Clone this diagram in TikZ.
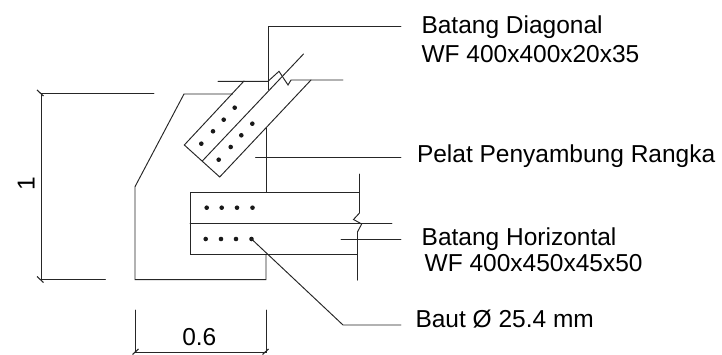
\documentclass[tikz,border=0pt]{standalone}
\usepackage{fontspec}
\setmainfont{Liberation Sans}
\tikzset{
  ln/.style={line width=0.95pt,draw=black!85,line cap=round,line join=miter},
  lbl/.style={inner sep=0pt,anchor=base west,font=\fontsize{24.5}{28}\selectfont,text=black},
  pt/.style={circle,fill=black!90,inner sep=0pt,minimum size=4.6pt},
  tick/.style={line width=1.1pt,draw=black!85}
}
\begin{document}
\begin{tikzpicture}[x=1pt,y=-1pt]
\useasboundingbox (0,0) rectangle (722,355);
% labels
\node[lbl] (lDiagA) at (421.3,33.5) {Batang Diagonal};
\node[lbl] (lDiagB) at (421.3,63) {WF 400x400x20x35};
\node[lbl] (lPelat) at (416.8,163) {Pelat Penyambung Rangka};
\node[lbl] (lHorA) at (421.5,245) {Batang Horizontal};
\node[lbl] (lHorB) at (424.5,271.7) {WF 400x450x45x50};
\node[lbl] (lBaut) at (415.3,327.3) {Baut Ø 25.4 mm};
\node[lbl,anchor=base] (lWid) at (199.3,345.7) {0.6};
\node[lbl,anchor=base,rotate=90] (lHei) at (34.5,184) {1};
% bolts diagonal
\foreach \n/\x/\y in {a/201.3/143.7,b/213/131.3,c/223.7/119.7,d/234.7/107.7,e/218.7/159.7,f/230.7/147,g/241.3/135.3,h/252.3/123.7}
  \node[pt] (d\n) at (\x,\y) {};
% bolts horizontal
\foreach \n/\x in {a/206.7,b/221.7,c/237,d/252.5}
  \node[pt] (t\n) at (\x,207.7) {};
\foreach \n/\x in {a/205.7,b/221,c/236,d/251.5}
  \node[pt] (u\n) at (\x,239) {};
% gusset plate
\draw[ln] (232.7,94) -- (184,94) -- (135,186.7) -- (135,279.7) -- (266,279.7) -- (266,254.7);
\draw[ln] (266,192) -- (266,128);
% diagonal member
\draw[ln] (244,81) -- (184.3,145) -- (219.7,177) -- (311,80);
\draw[ln] (202.3,161) -- (303.5,54);
\draw[ln] (218,81.3) -- (268,81.3) -- (279,71.3) -- (288,85) -- (291,80) -- (343,80);
% horizontal member
\draw[ln] (359.5,192) -- (190,192) -- (190,254.7) -- (357.5,254.7);
\draw[ln] (190,223.3) -- (392,223.3);
\draw[ln] (359.5,174) -- (359.5,213) -- (353.5,219.5) -- (361.7,224) -- (357.6,231.7);
\draw[ln,line width=1.3pt] (357.6,231.7) -- (357.6,280);
% leaders
\coordinate (cDiag0) at (268.3,90);
\coordinate (cDiag1) at (268.3,26);
\coordinate (cDiag2) at (401,26);
\draw[ln] (cDiag0) -- (cDiag1) -- (cDiag2);
\coordinate (cPel0) at (255.7,157);
\coordinate (cPel1) at (401,157);
\draw[ln] (cPel0) -- (cPel1);
\coordinate (cHor0) at (341,239.3);
\coordinate (cHor1) at (401,239.3);
\draw[ln] (cHor0) -- (cHor1);
\coordinate (cB1) at (343,325);
\coordinate (cB2) at (401,325);
\draw[ln] (ud.center) -- (cB1) -- (cB2);
% dimension: height
\coordinate (hT) at (41,93.7);
\coordinate (hB) at (41,279.7);
\coordinate (hTe) at (154,93.7);
\coordinate (hBe) at (105.5,279.7);
\draw[ln] (hTe) -- (hT) -- (hB) -- (hBe);
\draw[tick] (37,90) -- (43.5,96);
\draw[tick] (37,276.5) -- (43.5,282.5);
% dimension: width
\coordinate (wL) at (135,352);
\coordinate (wR) at (266,352);
\coordinate (wLt) at (135,310);
\coordinate (wRt) at (266,310);
\draw[ln] (wLt) -- (wL) -- (wR) -- (wRt);
\draw[tick] (132.5,354.5) -- (138.5,349);
\draw[tick] (262.5,354.5) -- (268.5,349);
\end{tikzpicture}
\end{document}
